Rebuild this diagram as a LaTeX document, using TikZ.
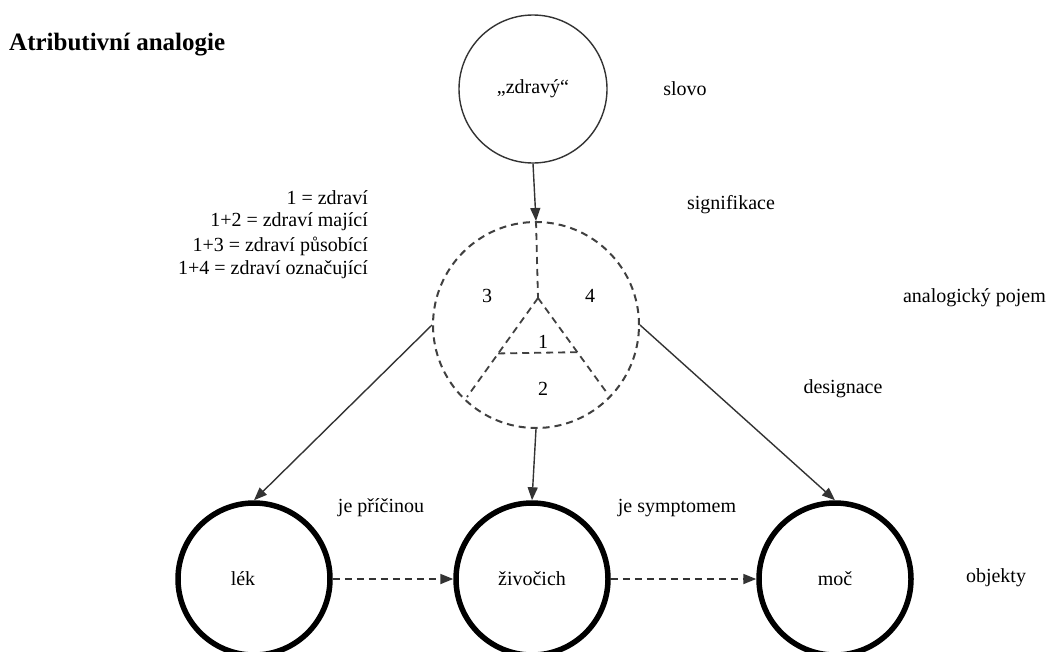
\documentclass[tikz,border=0pt]{standalone}
\usepackage{fontspec}
\setmainfont{Liberation Serif}
\usetikzlibrary{arrows.meta,calc}
\begin{document}
\begin{tikzpicture}[x=1pt,y=-1pt,
  lbl/.style={font=\fontsize{20}{24}\selectfont, inner sep=0pt},
  leg/.style={font=\fontsize{20}{24}\selectfont, inner sep=0pt, anchor=east},
  word/.style={circle, draw=black!80, line width=1.4pt, minimum size=148pt, inner sep=0pt, font=\fontsize{20}{24}\selectfont},
  concept/.style={circle, draw=black!75, line width=2pt, dash pattern=on 7pt off 5pt, minimum size=206pt, inner sep=0pt},
  obj/.style={circle, draw=black, line width=5.5pt, minimum size=152pt, inner sep=0pt, font=\fontsize{20}{24}\selectfont},
  link/.style={draw=black!80, line width=1.4pt, -{Triangle[length=13pt,width=10pt]}},
  dlink/.style={draw=black!80, line width=1.8pt, dash pattern=on 7pt off 5pt, -{Triangle[length=13pt,width=10pt]}},
  inner/.style={draw=black!75, line width=1.8pt, dash pattern=on 7pt off 5pt}]
\useasboundingbox[fill=white] (0,0) rectangle (1046,651);

\node[font=\fontsize{25}{28}\selectfont\bfseries, anchor=west, inner sep=0pt] (title) at (9,45) {Atributivní analogie};

\node[word] (slovo) at (533,89) {„zdravý“};
\node[concept] (pojem) at (536,325) {};
\node[obj, label={[lbl, xshift=-11pt]center:lék}] (lek) at (254,579) {};
\node[obj] (zivocich) at (532,579) {živočich};
\node[obj] (moc) at (835,579) {moč};

% inner partition of the analogical concept
\coordinate (c0) at (538,298);
\coordinate (cl) at (467,397);
\coordinate (cr) at (607,393);
\coordinate (hl) at ($(c0)!0.56!(cl)$);
\coordinate (hr) at ($(c0)!0.57!(cr)$);
\draw[inner] (pojem.north) -- (c0);
\draw[inner] (c0) -- (cl);
\draw[inner] (c0) -- (cr);
\draw[inner] (hl) -- (hr);

\node[lbl] (n3) at (487,296) {3};
\node[lbl] (n4) at (590,296) {4};
\node[lbl] (n1) at (543,342) {1};
\node[lbl] (n2) at (543,389) {2};

% legend
\node[leg] (l1) at (368,198) {1 = zdraví};
\node[leg] (l2) at (368,222) {1+2 = zdraví mající};
\node[leg] (l3) at (368,246) {1+3 = zdraví působící};
\node[leg] (l4) at (368,270) {1+4 = zdraví označující};

% side labels
\node[lbl] (tslovo) at (685,89) {slovo};
\node[lbl] (tsig) at (731,205) {signifikace};
\node[lbl, anchor=east] (tpojem) at (1046,298) {analogický pojem};
\node[lbl] (tdes) at (843,389) {designace};
\node[lbl] (tpric) at (381,508) {je příčinou};
\node[lbl] (tsym) at (677,508) {je symptomem};
\node[lbl] (tobj) at (996,578) {objekty};

% connectors
\draw[link] (slovo.south) -- (pojem.north);
\draw[link] (pojem.west) -- (lek.north);
\draw[link] (pojem.south) -- (zivocich.north);
\draw[link] (pojem.east) -- (moc.north);
\draw[dlink] (lek.east) -- (zivocich.west);
\draw[dlink] (zivocich.east) -- (moc.west);
\end{tikzpicture}
\end{document}
